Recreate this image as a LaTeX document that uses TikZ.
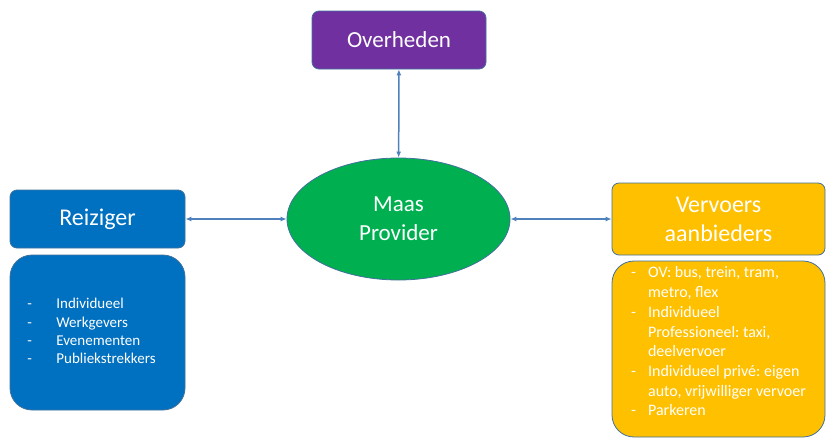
\documentclass[tikz,border=0pt]{standalone}
\usepackage{fontspec}
\setmainfont{Carlito}
\usetikzlibrary{shapes.geometric,arrows.meta}

\definecolor{boxblue}{HTML}{0070C0}
\definecolor{boxpurple}{HTML}{7030A0}
\definecolor{boxgreen}{HTML}{00B050}
\definecolor{boxgold}{HTML}{FFC000}
\definecolor{linkblue}{HTML}{4F81BD}
\definecolor{edgeblue}{HTML}{41719C}

\tikzset{
  actor/.style={draw=edgeblue, line width=0.8pt, text=white, align=center,
    inner sep=0pt, rounded corners=7pt},
  listbox/.style={actor, rounded corners=22pt},
  link/.style={linkblue, line width=1.5pt, {Latex[length=6pt,width=5pt]}-{Latex[length=6pt,width=5pt]}}
}

\begin{document}
\frenchspacing
\begin{tikzpicture}[x=1pt,y=-1pt]
\useasboundingbox (0,0) rectangle (826,437);
% actors
\node [actor, fill=boxpurple, minimum width=174pt, minimum height=58pt,
  font=\fontsize{23}{28}\selectfont] (overheden) at (399,40) {Overheden};
\node [actor, ellipse, rounded corners=0pt, fill=boxgreen, minimum width=223pt, minimum height=122pt,
  font=\fontsize{23}{29}\selectfont] (maas) at (398.5,219) {Maas\\Provider};
\node [actor, fill=boxblue, minimum width=175pt, minimum height=58pt,
  font=\fontsize{24}{29}\selectfont] (reiziger) at (97.5,219) {Reiziger};
\node [actor, fill=boxgold, minimum width=213pt, minimum height=72pt,
  font=\fontsize{24}{29}\selectfont] (vervoers) at (718.5,219) {Vervoers\\aanbieders};
% lists
\node [listbox, fill=boxblue, minimum width=175pt, minimum height=155pt,
  font=\fontsize{15}{18.3}\selectfont] (reizigerlist) at (97.5,332.5)
  {\begin{tabular}{@{}p{17pt}l@{\hspace{12pt}}}
  - & Individueel\\
  - & Werkgevers\\
  - & Evenementen\\
  - & Publiekstrekkers
  \end{tabular}};
\node [listbox, fill=boxgold, minimum width=213pt, minimum height=176pt,
  font=\fontsize{16}{19.7}\selectfont] (vervoerslist) at (718.5,349)
  {\begin{tabular}{@{}p{5pt}l@{}}
  - & OV: bus, trein, tram,\\
    & metro, flex\\
  - & Individueel\\
    & Professioneel: taxi,\\
    & deelvervoer\\
  - & Individueel privé: eigen\\
    & auto, vrijwilliger vervoer\\
  - & Parkeren\\[12pt]
  \end{tabular}};
% links
\draw [link] (overheden) -- (maas);
\draw [link] (reiziger) -- (maas);
\draw [link] (maas) -- (vervoers);
\end{tikzpicture}
\end{document}
